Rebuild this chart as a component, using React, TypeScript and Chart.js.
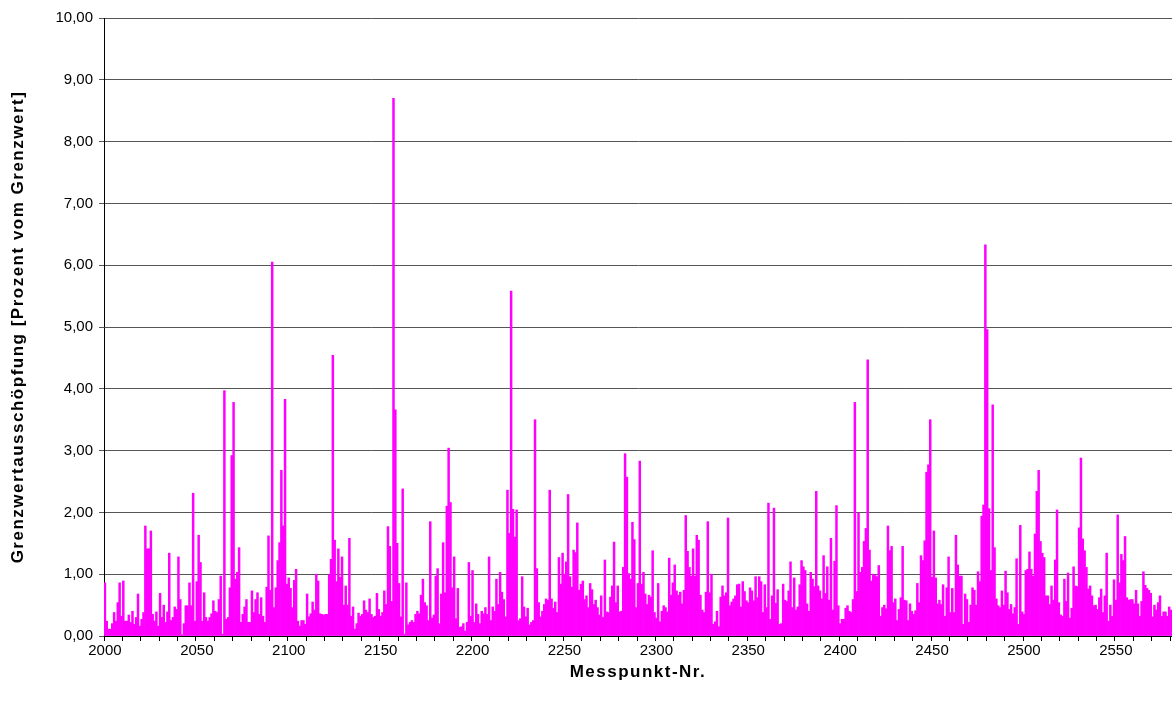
import { useEffect, useRef } from 'react';
import { Chart, registerables } from 'chart.js';

Chart.register(...registerables);

// Grenzwertausschöpfung per Messpunkt, in segments of the x range
const values2000 = [0.86, 0.24, 0.11, 0.11, 0.2, 0.38, 0.24, 0.54, 0.86, 0.32, 0.89, 0.24, 0.24, 0.34, 0.22, 0.4, 0.19, 0.3, 0.68, 0.16, 0.27, 0.38, 1.78, 1.41, 1.41, 1.7, 0.35, 0.24, 0.39, 0.16, 0.69, 0.3, 0.5, 0.22, 0.39, 1.34, 0.25, 0.3, 0.47, 0.43, 1.28, 0.59, 0.02, 0.2, 0.49, 0.49, 0.86, 0.49, 2.31];
const values2049 = [0.24, 0.88, 1.63, 1.19, 0.24, 0.7, 0.3, 0.24, 0.3, 0.36, 0.57, 0.4, 0.38, 0.59, 0.97, 0.03, 3.97, 0.27, 0.3, 0.78, 2.92, 3.78, 0.92, 1.03, 1.43, 0.22, 0.35, 0.47, 0.59, 0.22, 0.22, 0.73, 0.38, 0.59, 0.7, 0.35, 0.62, 0.32, 0.22, 0.79, 1.62, 0.74, 6.05, 0.46, 0.78, 1.22, 1.51, 2.68, 1.78];
const values2098 = [3.83, 0.84, 0.94, 0.77, 0.46, 0.9, 1.08, 0.24, 0.16, 0.25, 0.25, 0.19, 0.68, 0.31, 0.36, 0.55, 0.42, 1.0, 0.89, 0.36, 0.35, 0.34, 0.35, 0.35, 0.99, 1.24, 4.54, 1.55, 0.88, 1.41, 0.95, 1.28, 0.5, 0.81, 0.5, 1.58, 0.32, 0.47, 0.11, 0.2, 0.37, 0.32, 0.35, 0.57, 0.42, 0.38, 0.6, 0.35, 0.3];
const values2147 = [0.32, 0.69, 0.43, 0.32, 0.38, 0.73, 0.51, 1.77, 1.45, 0.56, 8.7, 3.66, 1.5, 0.85, 0.31, 2.38, 0.03, 0.86, 0.18, 0.22, 0.25, 0.22, 0.35, 0.4, 0.36, 0.66, 0.92, 0.54, 0.49, 0.25, 1.85, 0.29, 0.34, 0.97, 1.09, 0.2, 0.68, 1.51, 0.7, 2.1, 3.04, 2.16, 0.78, 1.28, 0.28, 0.77, 0.14, 0.15, 0.2];
const values2196 = [0.08, 0.22, 1.19, 0.32, 1.06, 0.22, 0.52, 0.35, 0.2, 0.4, 0.36, 0.46, 0.35, 1.28, 0.25, 0.47, 0.4, 0.92, 0.51, 1.03, 0.71, 0.59, 0.31, 2.36, 1.66, 5.58, 2.05, 1.6, 2.04, 0.25, 0.28, 0.96, 0.47, 0.31, 0.45, 0.18, 0.22, 0.25, 3.5, 1.09, 0.54, 0.31, 0.4, 0.51, 0.6, 0.58, 2.36, 0.6, 0.45];
const values2245 = [0.55, 0.38, 1.27, 0.84, 1.34, 1.0, 1.2, 2.29, 0.96, 0.79, 1.39, 1.35, 1.83, 0.74, 0.84, 0.89, 0.59, 0.65, 0.46, 0.85, 0.75, 0.51, 0.58, 0.46, 0.34, 0.65, 0.3, 1.23, 0.39, 0.38, 0.63, 0.81, 1.52, 0.54, 0.81, 0.39, 0.4, 1.11, 2.95, 2.57, 1.01, 0.92, 1.84, 1.56, 0.46, 0.85, 2.83, 0.84, 1.03];
const values2294 = [0.68, 0.51, 0.66, 0.63, 1.38, 0.38, 0.29, 0.85, 0.23, 0.4, 0.49, 0.46, 0.39, 1.26, 0.66, 0.86, 1.15, 0.73, 0.66, 0.71, 0.52, 0.74, 1.95, 1.37, 1.11, 0.97, 1.41, 0.97, 1.63, 1.55, 0.66, 0.42, 0.38, 0.71, 1.85, 0.7, 1.0, 0.19, 0.23, 0.4, 0.15, 0.63, 0.81, 0.65, 0.7, 1.91, 0.49, 0.55, 0.6];
const values2343 = [0.65, 0.83, 0.84, 0.47, 0.88, 0.72, 0.57, 0.54, 0.78, 0.73, 0.57, 0.96, 0.62, 0.96, 0.88, 0.38, 0.83, 0.46, 2.15, 0.27, 0.65, 2.07, 0.53, 0.75, 0.19, 0.2, 0.84, 0.58, 0.56, 0.73, 1.2, 0.46, 0.94, 0.42, 0.47, 0.83, 1.22, 1.12, 1.06, 0.52, 0.4, 1.03, 0.92, 0.8, 2.34, 0.81, 0.73, 0.6, 1.3];
const values2392 = [0.69, 1.12, 0.58, 1.58, 0.42, 1.21, 2.11, 0.49, 0.2, 0.27, 0.27, 0.45, 0.49, 0.4, 0.38, 0.59, 3.78, 0.72, 1.99, 1.03, 1.11, 1.53, 1.74, 4.47, 1.39, 0.89, 1.0, 0.98, 0.96, 1.14, 0.32, 0.46, 0.5, 0.44, 1.78, 1.38, 1.45, 0.54, 0.6, 0.25, 0.43, 0.62, 1.45, 0.58, 0.57, 0.25, 0.52, 0.4, 0.35];
const values2441 = [0.41, 0.85, 0.54, 1.3, 1.22, 1.54, 2.65, 2.77, 3.5, 0.95, 1.7, 0.94, 0.52, 0.58, 0.51, 0.83, 0.32, 0.78, 1.28, 0.38, 0.77, 0.38, 1.63, 1.15, 0.97, 0.97, 0.19, 0.68, 0.59, 0.22, 0.5, 0.78, 0.74, 0.5, 1.04, 0.88, 1.94, 2.12, 6.33, 4.96, 2.06, 1.06, 3.74, 1.43, 0.6, 0.49, 0.46, 0.73, 0.5];
const values2490 = [1.05, 0.7, 0.43, 0.51, 0.36, 0.46, 1.25, 0.19, 1.79, 0.39, 0.35, 1.06, 1.08, 1.36, 1.08, 0.97, 1.65, 2.34, 2.68, 1.53, 1.34, 1.27, 0.65, 0.65, 0.51, 0.81, 0.58, 1.23, 2.04, 0.54, 0.34, 0.32, 0.92, 0.56, 1.02, 0.29, 0.45, 1.12, 0.81, 0.8, 1.75, 2.88, 1.57, 1.38, 1.11, 0.76, 0.81, 0.65, 0.49];
const values2539 = [0.5, 0.43, 0.62, 0.76, 0.38, 0.65, 1.34, 0.24, 0.5, 0.32, 0.91, 0.58, 1.96, 0.86, 1.32, 1.22, 1.61, 0.62, 0.58, 0.59, 0.59, 0.52, 0.74, 0.52, 0.32, 0.56, 1.04, 0.82, 0.77, 0.74, 0.69, 0.31, 0.5, 0.42, 0.54, 0.65, 0.32, 0.39, 0.39, 0.32, 0.47, 0.42];

const values = [
  ...values2000, ...values2049, ...values2098, ...values2147, ...values2196, ...values2245,
  ...values2294, ...values2343, ...values2392, ...values2441, ...values2490, ...values2539,
];

const firstPoint = 2000;
const categories = values.map((_, i) => String(firstPoint + i));
const labelEvery = 50;
const tickEvery = 10;
const yMin = 0;
const yMax = 10;
const yStep = 1;

const FONT = "'Liberation Sans', Arial, sans-serif";

// widen the letter spacing of an axis title only
function spacedTitle(s: any) {
  if (s.__spaced) return;
  const orig = s.drawTitle.bind(s);
  s.drawTitle = (...args: any[]) => {
    const ctx = s.ctx as any;
    const prev = ctx.letterSpacing;
    ctx.letterSpacing = '1.5px';
    orig(...args);
    ctx.letterSpacing = prev || '0px';
  };
  s.__spaced = true;
}

export default function App() {
  const ref = useRef<HTMLCanvasElement | null>(null);

  useEffect(() => {
    document.body.style.margin = '0';
    if (!ref.current) return;
    const chart = new Chart(ref.current, {
      type: 'bar',
      data: {
        labels: categories,
        datasets: [
          {
            data: values,
            backgroundColor: '#FF00FF',
            borderWidth: 0,
            barPercentage: 1,
            categoryPercentage: 1,
          },
        ],
      },
      options: {
        animation: false,
        responsive: false,
        maintainAspectRatio: false,
        layout: { padding: { top: 18, right: 0, left: 0, bottom: 0 } },
        plugins: { legend: { display: false }, tooltip: { enabled: false } },
        scales: {
          x: {
            grid: {
              display: true,
              drawOnChartArea: false,
              drawTicks: true,
              tickLength: 5,
              offset: true,
              color: (ctx: any) => (ctx.index % tickEvery === 0 ? '#000' : 'rgba(0,0,0,0)'),
            },
            border: { display: true, color: '#000', width: 1 },
            ticks: {
              autoSkip: false,
              maxRotation: 0,
              minRotation: 0,
              padding: 1,
              color: '#000',
              font: { family: FONT, size: 15 },
              callback: (_v: any, i: number) =>
                (firstPoint + i) % labelEvery === 0 ? String(firstPoint + i) : '',
            },
            title: {
              display: true,
              text: 'Messpunkt-Nr.',
              color: '#000',
              font: { family: FONT, size: 17, weight: 'bold' },
              padding: { top: 0, bottom: 26 },
            },
            afterFit: (s: any) => {
              s.height = 73;
              spacedTitle(s);
            },
          },
          y: {
            min: yMin,
            max: yMax,
            grid: { color: '#555', lineWidth: 1, tickLength: 5 },
            border: { display: true, color: '#000', width: 1 },
            ticks: {
              stepSize: yStep,
              padding: 6,
              color: '#000',
              font: { family: FONT, size: 15 },
              callback: (v: any) => Number(v).toFixed(2).replace('.', ','),
            },
            title: {
              display: true,
              text: 'Grenzwertausschöpfung [Prozent vom Grenzwert]',
              color: '#000',
              font: { family: FONT, size: 17, weight: 'bold' },
              padding: { top: 8, bottom: 0 },
            },
            afterFit: (s: any) => {
              s.width = 104;
              spacedTitle(s);
            },
          },
        },
      },
    } as any);
    return () => chart.destroy();
  }, []);

  return (
    <div style={{ width: 1172, height: 709, background: '#fff' }}>
      <canvas ref={ref} width={1172} height={709} style={{ display: 'block' }} />
    </div>
  );
}
